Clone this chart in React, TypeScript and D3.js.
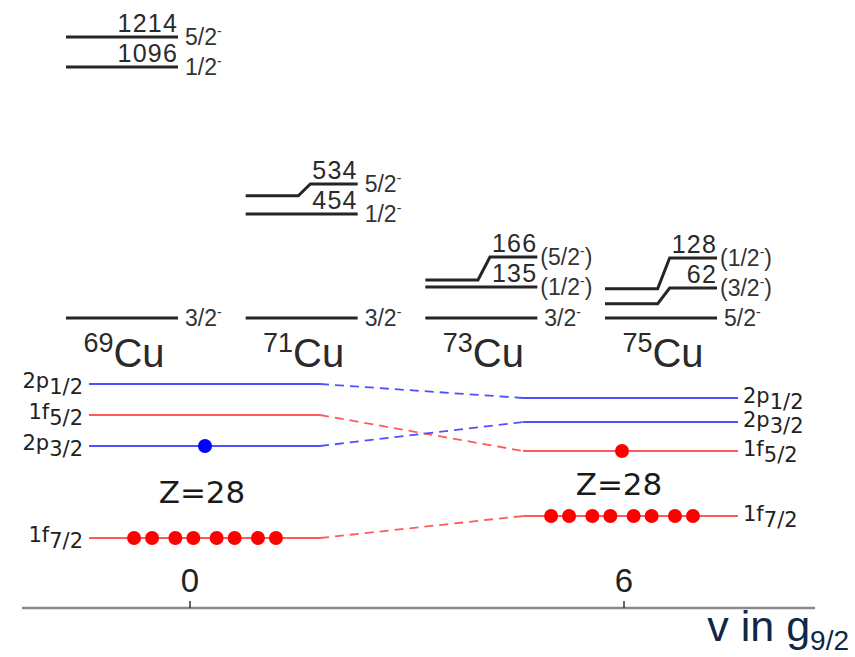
import React from "react";
import * as d3 from "d3";

// ---------- DATA ----------
const isotopes = ["69Cu", "71Cu", "73Cu", "75Cu"];
const massNumbers = ["69", "71", "73", "75"];
// level energies (keV) and spins per isotope
const levelEnergies69 = [0, 1096, 1214];
const levelSpins69 = ["3/2-", "1/2-", "5/2-"];
const levelEnergies71 = [0, 454, 534];
const levelSpins71 = ["3/2-", "1/2-", "5/2-"];
const levelEnergies73 = [0, 135, 166];
const levelSpins73 = ["3/2-", "(1/2-)", "(5/2-)"];
const levelEnergies75 = [0, 62, 128];
const levelSpins75 = ["5/2-", "(3/2-)", "(1/2-)"];

// single-particle orbitals (schematic energies, arbitrary units)
const orbitals = ["2p1/2", "1f5/2", "2p3/2", "1f7/2"];
const seniorities = [0, 6];
const orbitalEnergiesV0 = [9.8, 8.25, 6.7, 2.1];
const orbitalEnergiesV6 = [9.1, 6.45, 7.9, 3.2];
const occupationV0 = [0, 0, 1, 8];
const occupationV6 = [0, 1, 0, 8];
const shellLabel = "Z=28";
const axisTicks = [0, 6];

// ---------- LAYOUT ----------
const W = 855;
const H = 657;
const LEVEL_WIDTH = 112;
const MIN_GAP = 30;
const ARIAL = "'Liberation Sans', Arial, sans-serif";
const DEJAVU = "'DejaVu Sans', Verdana, sans-serif";
const BLUE = "#4f4fff";
const RED = "#ff5a5a";

const levelData = [
  { e: levelEnergies69, s: levelSpins69 },
  { e: levelEnergies71, s: levelSpins71 },
  { e: levelEnergies73, s: levelSpins73 },
  { e: levelEnergies75, s: levelSpins75 },
];

function SpinLabel({ x, y, spin }: { x: number; y: number; spin: string }) {
  const idx = spin.indexOf("-");
  const before = spin.slice(0, idx);
  const after = spin.slice(idx + 1);
  return (
    <text x={x} y={y} fontFamily={ARIAL} fontSize={23} fill="#333">
      <tspan>{before}</tspan>
      <tspan dy={-9} fontSize={14}>-</tspan>
      {after ? <tspan dy={9}>{after}</tspan> : null}
    </text>
  );
}

function OrbitalLabel({ x, y, name, anchor }: { x: number; y: number; name: string; anchor: string }) {
  return (
    <text x={x} y={y} fontFamily={DEJAVU} fontSize={21} fill="#222" textAnchor={anchor}>
      <tspan>{name.slice(0, 2)}</tspan>
      <tspan dy={6} fontSize={21}>{name.slice(2)}</tspan>
    </text>
  );
}

export default function App() {
  const yLevel = d3.scaleLinear().domain([0, 1214]).range([318, 40]);
  const xIso = d3.scalePoint<string>().domain(isotopes).range([66, 605]);

  const xV = d3.scaleLinear().domain([0, 6]).range([190, 624]);
  const yOrb = d3.scaleLinear().domain([0, 10]).range([580, 380]);

  const blocks = [
    { v: seniorities[0], e: orbitalEnergiesV0, occ: occupationV0, left: -101, right: 130, dot: 15, labelSide: "left" },
    { v: seniorities[1], e: orbitalEnergiesV6, occ: occupationV6, left: -101, right: 114, dot: -2, labelSide: "right" },
  ];

  const isBlue = (name: string) => name.includes("p");

  const dotOffsets = (n: number) =>
    d3.range(n).map((i) => {
      const pair = Math.floor(i / 2);
      return (pair - 1.5) * 41.3 + (i % 2 ? 9 : -9);
    });

  return (
    <svg width={W} height={H} style={{ position: "absolute", left: 0, top: 0, background: "#fff" }}>
      {/* ---------- level schemes ---------- */}
      {levelData.map((iso, k) => {
        const x0 = xIso(isotopes[k]) as number;
        const x1 = x0 + LEVEL_WIDTH;
        const order = d3.range(iso.e.length).sort((a, b) => iso.e[a] - iso.e[b]);
        const disp: number[] = [];
        const base: number[] = [];
        order.forEach((li, j) => {
          const t = yLevel(iso.e[li]);
          const d = j === 0 ? t : Math.min(t, disp[order[j - 1]] - MIN_GAP);
          disp[li] = d;
          // small shifts are absorbed by moving the whole line instead of kinking
          base[li] = t - d < 8 ? d : t;
        });
        const kinkStart = x0 + LEVEL_WIDTH * 0.47;
        return (
          <g key={isotopes[k]}>
            {iso.e.map((en, li) => {
              const t = base[li];
              const d = disp[li];
              const path =
                Math.abs(t - d) < 0.5
                  ? `M${x0},${t}H${x1}`
                  : `M${x0},${t}H${kinkStart}L${kinkStart + 12},${d}H${x1}`;
              const paren = iso.s[li].startsWith("(");
              return (
                <g key={li}>
                  <path d={path} fill="none" stroke="#252525" strokeWidth={3} />
                  {en > 0 ? (
                    <text x={x1} y={d - 5} textAnchor="end" fontFamily={ARIAL} fontSize={25} letterSpacing={1.2} fill="#2a2a2a">
                      {en}
                    </text>
                  ) : null}
                  <SpinLabel x={x1 + (paren ? 3 : 7)} y={d + 8} spin={iso.s[li]} />
                </g>
              );
            })}
            <text x={x0 + LEVEL_WIDTH / 2 + 2} y={367} textAnchor="middle" fontFamily={ARIAL} fill="#2a2a2a">
              <tspan fontSize={27} dy={-15}>{massNumbers[k]}</tspan>
              <tspan fontSize={40} dy={15}>Cu</tspan>
            </text>
          </g>
        );
      })}

      {/* ---------- single-particle orbitals ---------- */}
      {orbitals.map((name, i) => {
        const a = blocks[0];
        const b = blocks[1];
        const xa = xV(a.v) + a.right;
        const xb = xV(b.v) + b.left;
        return (
          <line
            key={"dash" + name}
            x1={xa}
            y1={yOrb(a.e[i])}
            x2={xb}
            y2={yOrb(b.e[i])}
            stroke={isBlue(name) ? BLUE : RED}
            strokeWidth={1.8}
            strokeDasharray="9,6"
          />
        );
      })}
      {blocks.map((blk, bi) => {
        const cx = xV(blk.v);
        const lo = orbitals.map((_, i) => yOrb(blk.e[i]));
        const above = Math.max(...lo.filter((_, i) => i < 3));
        const below = lo[3];
        return (
          <g key={"blk" + bi}>
            {orbitals.map((name, i) => {
              const y = yOrb(blk.e[i]);
              const col = isBlue(name) ? BLUE : RED;
              const dotCol = isBlue(name) ? "#0000ff" : "#ff0000";
              return (
                <g key={name}>
                  <line x1={cx + blk.left} x2={cx + blk.right} y1={y} y2={y} stroke={col} strokeWidth={1.8} />
                  {blk.labelSide === "left" ? (
                    <OrbitalLabel x={cx + blk.left - 6} y={y + 4} name={name} anchor="end" />
                  ) : (
                    <OrbitalLabel x={cx + blk.right + 5} y={y + 5} name={name} anchor="start" />
                  )}
                  {(blk.occ[i] === 1 ? [0] : dotOffsets(blk.occ[i])).map((o, j) => (
                    <circle key={j} cx={cx + blk.dot + o} cy={y} r={7} fill={dotCol} />
                  ))}
                </g>
              );
            })}
            <text
              x={cx + blk.dot - 3}
              y={(above + below) / 2 + 11}
              textAnchor="middle"
              fontFamily={DEJAVU}
              fontSize={31}
              fill="#1a1a1a"
            >
              {shellLabel}
            </text>
          </g>
        );
      })}

      {/* ---------- axis ---------- */}
      <line x1={22} x2={815} y1={608} y2={608} stroke="#8a8a8a" strokeWidth={2.5} />
      {axisTicks.map((t) => (
        <g key={t}>
          <line x1={xV(t)} x2={xV(t)} y1={601} y2={608} stroke="#333" strokeWidth={1.5} />
          <text x={xV(t)} y={592} textAnchor="middle" fontFamily={ARIAL} fontSize={33} fill="#222">
            {t}
          </text>
        </g>
      ))}
      <text x={849} y={641} textAnchor="end" fontFamily={ARIAL} fill="#0f2748">
        <tspan fontSize={43}>v in g</tspan>
        <tspan fontSize={28} dy={9}>9/2</tspan>
      </text>
    </svg>
  );
}
